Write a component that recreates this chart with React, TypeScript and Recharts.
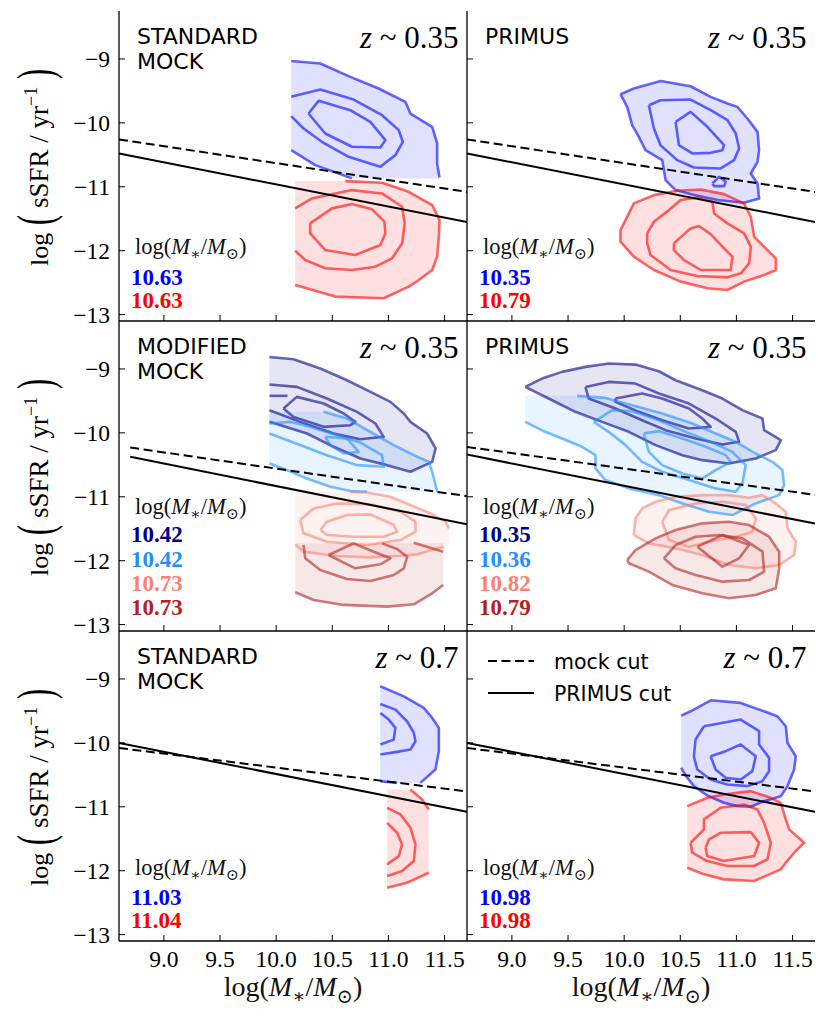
import React from "react";
import { ComposedChart, Scatter, XAxis, YAxis } from "recharts";

const massTicks = [9, 9.5, 10, 10.5, 11, 11.5];
const ssfrTicks = [-13, -12, -11, -10, -9];
const massDomain = [8.6, 11.7];
const ssfrDomain = [-13.1, -8.25];

// quiescent / star-forming cuts: [y at left end, y at right end]
const cutMass = [8.6, 11.7];
const cutMassMod = [8.7, 11.7];
const mockCutZ035 = [-10.26, -11.08];
const primusCutZ035 = [-10.48, -11.55];
const mockCutMod = [-10.23, -10.99];
const primusCutMod = [-10.375, -11.43];
const mockCutModP = [-10.22, -10.97];
const primusCutModP = [-10.34, -11.42];
const mockCutZ07 = [-10.08, -10.76];
const primusCutZ07 = [-10.0, -11.08];

// median masses printed in each panel
const valsStd035 = ["10.63", "10.63"];
const valsPrimus035 = ["10.35", "10.79"];
const valsMod = ["10.42", "10.42", "10.73", "10.73"];
const valsPrimusMod = ["10.35", "10.36", "10.82", "10.79"];
const valsStd07 = ["11.03", "11.04"];
const valsPrimus07 = ["10.98", "10.98"];

// ---- standard mock z~0.35
const smBlueL1 = [[10.134,-9.031],[10.393,-9.072],[10.660,-9.281],[10.913,-9.463],[11.151,-9.671],[11.196,-9.854],[11.390,-10.062],[11.434,-10.322],[11.434,-10.635],[11.455,-10.854]];
const smBlueL1b = [[10.134,-10.427],[10.348,-10.661],[10.675,-10.869]];
const smBlueL2 = [[10.134,-9.593],[10.393,-9.479],[10.690,-9.635],[10.943,-9.880],[11.092,-10.114],[11.128,-10.296],[11.062,-10.505],[10.928,-10.687],[10.645,-10.531],[10.407,-10.296],[10.244,-10.088],[10.134,-9.895]];
const smBlueL3 = [[10.288,-9.854],[10.378,-9.656],[10.660,-9.802],[10.839,-9.984],[10.973,-10.270],[10.928,-10.385],[10.675,-10.374],[10.437,-10.166],[10.288,-9.854]];
const smRedL1 = [[10.616,-10.911],[10.943,-10.937],[11.181,-11.078],[11.390,-11.286],[11.455,-11.520],[11.449,-11.781],[11.434,-12.093],[11.390,-12.302],[11.270,-12.458],[11.181,-12.562],[10.958,-12.744],[10.526,-12.718],[10.169,-12.536]];
const smRedL2 = [[10.169,-11.338],[10.318,-11.182],[10.675,-11.052],[10.943,-11.104],[11.122,-11.312],[11.145,-11.572],[11.122,-11.885],[11.032,-12.119],[10.884,-12.250],[10.675,-12.302],[10.437,-12.275],[10.259,-12.145],[10.169,-12.000]];
const smRedL3 = [[10.303,-11.572],[10.497,-11.338],[10.675,-11.270],[10.854,-11.353],[10.964,-11.546],[10.973,-11.728],[10.928,-11.911],[10.705,-12.067],[10.437,-11.989],[10.303,-11.728],[10.303,-11.572]];

// ---- PRIMUS z~0.35
const prBlueL1 = [[9.967,-9.552],[10.086,-9.463],[10.324,-9.344],[10.592,-9.427],[10.771,-9.594],[10.920,-9.698],[11.009,-9.750],[11.098,-9.932],[11.188,-10.141],[11.202,-10.427],[11.188,-10.609],[11.128,-10.792],[11.188,-10.948],[11.202,-11.182],[11.068,-11.250],[10.830,-11.208],[10.622,-11.130],[10.458,-11.052],[10.369,-10.896],[10.339,-10.583],[10.190,-10.427],[10.131,-10.219],[10.071,-10.036],[10.027,-9.750],[9.967,-9.552]];
const prBlueL2 = [[10.220,-9.724],[10.324,-9.646],[10.592,-9.635],[10.771,-9.802],[10.920,-9.958],[10.994,-10.167],[11.024,-10.401],[10.979,-10.583],[10.860,-10.713],[10.622,-10.698],[10.473,-10.583],[10.324,-10.349],[10.265,-10.089],[10.220,-9.724]];
const prBlueIsle = [[10.786,-10.948],[10.845,-10.844],[10.905,-10.922],[10.890,-10.990],[10.801,-10.990],[10.786,-10.948]];
const prBlueL3 = [[10.458,-9.984],[10.592,-9.828],[10.741,-10.062],[10.890,-10.349],[10.875,-10.427],[10.771,-10.469],[10.607,-10.479],[10.488,-10.349],[10.458,-9.984]];
const prRedL1 = [[9.967,-11.677],[10.012,-11.521],[10.086,-11.260],[10.265,-11.130],[10.473,-11.062],[10.682,-11.042],[10.890,-11.115],[11.068,-11.260],[11.128,-11.469],[11.158,-11.781],[11.277,-11.990],[11.351,-12.120],[11.351,-12.302],[11.247,-12.380],[11.068,-12.484],[10.920,-12.615],[10.741,-12.588],[10.503,-12.484],[10.265,-12.302],[10.086,-12.094],[9.967,-11.859],[9.967,-11.677]];
const prRedL2 = [[10.205,-11.729],[10.265,-11.547],[10.399,-11.365],[10.503,-11.208],[10.652,-11.167],[10.786,-11.234],[10.801,-11.417],[10.920,-11.573],[11.068,-11.729],[11.128,-11.937],[11.113,-12.198],[11.039,-12.354],[10.920,-12.417],[10.652,-12.396],[10.414,-12.302],[10.235,-12.068],[10.205,-11.885],[10.205,-11.729]];
const prRedL3 = [[10.443,-11.885],[10.592,-11.651],[10.667,-11.615],[10.771,-11.740],[10.875,-11.937],[10.964,-12.094],[10.949,-12.302],[10.682,-12.302],[10.533,-12.146],[10.443,-11.990],[10.443,-11.885]];

// ---- modified mock z~0.35
const mmNavyL1 = [[9.940,-8.812],[10.155,-8.849],[10.393,-8.994],[10.631,-9.177],[10.899,-9.411],[11.018,-9.515],[11.137,-9.697],[11.196,-9.828],[11.345,-10.010],[11.420,-10.244],[11.390,-10.453],[11.196,-10.609],[10.988,-10.505],[10.750,-10.401],[10.512,-10.218],[10.274,-10.010],[9.940,-9.828]];
const mmNavyL2 = [[9.940,-9.244],[10.184,-9.281],[10.452,-9.463],[10.720,-9.671],[10.884,-9.854],[10.958,-10.062],[10.750,-10.099],[10.512,-10.010],[10.214,-9.828],[9.940,-9.645]];
const mmNavyL3 = [[10.065,-9.619],[10.184,-9.437],[10.423,-9.541],[10.601,-9.697],[10.705,-9.828],[10.661,-9.880],[10.423,-9.906],[10.155,-9.750],[10.065,-9.619]];
const mmNavyStub = [[9.940,-9.421],[10.101,-9.421]];
const mmSkyL1 = [[10.423,-9.671],[10.631,-9.776],[10.839,-9.984],[11.048,-10.192],[11.226,-10.349],[11.360,-10.453],[11.390,-10.609],[11.435,-10.921]];
const mmSkyL1b = [[9.940,-10.479],[10.095,-10.583],[10.274,-10.713],[10.482,-10.843],[10.661,-10.911],[10.810,-10.921]];
const mmSkyL2 = [[9.940,-10.010],[10.155,-10.151],[10.452,-10.349],[10.720,-10.505],[10.958,-10.531],[10.943,-10.349],[10.750,-10.151],[10.542,-10.036],[10.304,-9.906],[10.125,-9.828],[9.940,-9.854]];
const mmSkyL3 = [[10.437,-10.062],[10.631,-10.088],[10.735,-10.297],[10.601,-10.323],[10.482,-10.192],[10.437,-10.062]];
const mmSalmonL1 = [[10.661,-10.921],[10.810,-10.932],[11.018,-11.000],[11.196,-11.130],[11.375,-11.260],[11.509,-11.390],[11.539,-11.494]];
const mmSalmonL1b = [[10.170,-11.745],[10.244,-11.859],[10.542,-11.927],[10.839,-11.948],[11.107,-11.922],[11.256,-11.901],[11.494,-11.781]];
const mmSalmonL2 = [[10.214,-11.364],[10.333,-11.182],[10.542,-11.104],[10.839,-11.119],[11.107,-11.234],[11.241,-11.390],[11.241,-11.546],[11.107,-11.677],[10.810,-11.755],[10.452,-11.703],[10.244,-11.572],[10.214,-11.364]];
const mmSalmonL3 = [[10.393,-11.520],[10.452,-11.390],[10.631,-11.286],[10.839,-11.276],[11.048,-11.442],[11.077,-11.546],[10.958,-11.625],[10.690,-11.625],[10.452,-11.599],[10.393,-11.520]];
const mmBrickL1 = [[10.170,-12.494],[10.333,-12.614],[10.601,-12.692],[10.988,-12.718],[11.226,-12.682],[11.390,-12.510],[11.488,-12.380]];
const mmBrickL2 = [[10.244,-11.755],[10.259,-11.963],[10.393,-12.145],[10.631,-12.286],[10.839,-12.317],[11.048,-12.224],[11.137,-12.119],[11.167,-11.937],[11.077,-11.817],[10.943,-11.729]];
const mmBrickStub = [[11.226,-11.718],[11.488,-11.859]];
const mmBrickL3 = [[10.467,-11.911],[10.690,-11.729],[10.869,-11.859],[11.018,-11.963],[10.928,-12.057],[10.705,-12.119],[10.467,-11.911]];

// ---- PRIMUS z~0.35, split like the modified mock
const pmNavyL1 = [[9.119,-9.281],[9.268,-9.151],[9.446,-9.046],[9.655,-8.968],[9.863,-8.916],[10.101,-8.932],[10.309,-9.036],[10.458,-9.177],[10.696,-9.333],[10.875,-9.463],[11.053,-9.645],[11.232,-9.776],[11.247,-9.958],[11.396,-10.114],[11.351,-10.270],[11.172,-10.401],[10.934,-10.479],[10.696,-10.427],[10.518,-10.349],[10.280,-10.192],[10.041,-9.984],[9.803,-9.828],[9.565,-9.671],[9.327,-9.463],[9.119,-9.281]];
const pmNavyL2 = [[9.655,-9.281],[9.863,-9.203],[10.101,-9.229],[10.309,-9.385],[10.577,-9.541],[10.815,-9.776],[10.994,-9.984],[11.024,-10.140],[10.875,-10.182],[10.637,-10.088],[10.369,-9.958],[10.160,-9.802],[9.922,-9.619],[9.684,-9.463],[9.655,-9.281]];
const pmNavyL3 = [[9.922,-9.463],[10.160,-9.385],[10.339,-9.463],[10.577,-9.619],[10.696,-9.776],[10.771,-9.906],[10.577,-9.932],[10.339,-9.802],[10.131,-9.671],[9.922,-9.515],[9.922,-9.463]];
const pmSkyL1 = [[9.580,-9.421],[9.833,-9.453],[10.071,-9.567],[10.339,-9.697],[10.607,-9.854],[10.815,-10.010],[10.994,-10.140],[11.172,-10.323],[11.321,-10.453],[11.410,-10.583],[11.425,-10.817],[11.381,-10.974],[11.172,-11.104],[10.964,-11.286],[10.756,-11.234],[10.518,-11.104],[10.309,-10.974],[10.041,-10.869],[9.833,-10.739],[9.744,-10.557],[9.744,-10.349],[9.625,-10.218],[9.446,-10.088],[9.297,-9.984],[9.119,-9.828]];
const pmSkyL2 = [[9.729,-9.828],[9.893,-9.645],[10.071,-9.661],[10.309,-9.802],[10.547,-9.984],[10.785,-10.151],[10.964,-10.297],[11.083,-10.505],[11.053,-10.791],[10.994,-10.921],[10.815,-10.869],[10.577,-10.739],[10.339,-10.609],[10.160,-10.453],[10.012,-10.192],[9.863,-9.984],[9.729,-9.828]];
const pmSkyL3 = [[10.175,-10.010],[10.309,-9.973],[10.518,-10.088],[10.726,-10.218],[10.905,-10.349],[10.949,-10.453],[10.815,-10.583],[10.696,-10.713],[10.518,-10.635],[10.339,-10.505],[10.220,-10.297],[10.175,-10.010]];
const pmSalmonL1 = [[10.086,-11.599],[10.101,-11.338],[10.160,-11.182],[10.280,-11.078],[10.458,-11.000],[10.696,-10.974],[10.934,-10.974],[11.113,-11.015],[11.232,-10.974],[11.351,-11.104],[11.440,-11.234],[11.455,-11.494],[11.530,-11.703],[11.515,-11.911],[11.381,-12.067],[11.172,-12.119],[10.934,-12.067],[10.696,-11.911],[10.458,-11.807],[10.220,-11.729],[10.086,-11.599]];
const pmSalmonL2 = [[10.339,-11.390],[10.399,-11.208],[10.637,-11.104],[10.875,-11.078],[11.083,-11.130],[11.172,-11.338],[11.143,-11.546],[10.994,-11.625],[10.756,-11.703],[10.577,-11.781],[10.399,-11.677],[10.339,-11.390]];
const pmBrickL1 = [[10.027,-11.989],[10.101,-11.833],[10.280,-11.651],[10.458,-11.520],[10.696,-11.416],[10.934,-11.390],[11.113,-11.442],[11.291,-11.625],[11.381,-11.859],[11.381,-12.119],[11.351,-12.432],[11.172,-12.536],[10.934,-12.588],[10.696,-12.510],[10.428,-12.380],[10.220,-12.171],[10.041,-12.041],[10.027,-11.989]];
const pmBrickL2 = [[10.354,-11.963],[10.458,-11.755],[10.637,-11.625],[10.845,-11.599],[11.053,-11.651],[11.232,-11.859],[11.247,-12.171],[11.113,-12.302],[10.875,-12.328],[10.637,-12.224],[10.458,-12.119],[10.354,-11.963]];
const pmBrickL3 = [[10.652,-11.781],[10.875,-11.599],[11.113,-11.755],[11.024,-11.963],[10.875,-12.093],[10.652,-11.781]];

// ---- standard mock z~0.7
const s7BlueL1 = [[10.928,-9.115],[11.137,-9.272],[11.315,-9.454],[11.390,-9.610],[11.449,-9.766],[11.449,-10.131],[11.419,-10.417],[11.285,-10.626]];
const s7BlueStub = [[10.928,-10.600],[11.077,-10.626]];
const s7BlueL2 = [[10.928,-9.391],[11.062,-9.480],[11.166,-9.662],[11.226,-9.844],[11.241,-9.975],[11.196,-10.105],[11.077,-10.141],[10.928,-10.183]];
const s7BlueL3 = [[10.928,-9.532],[11.003,-9.636],[11.062,-9.766],[11.047,-9.949],[10.928,-10.027]];
const s7RedL1a = [[11.196,-10.730],[11.300,-10.886],[11.360,-11.042]];
const s7RedL1b = [[10.988,-12.266],[11.166,-12.188],[11.360,-12.032]];
const s7RedL2 = [[10.988,-11.016],[11.107,-11.120],[11.196,-11.329],[11.241,-11.589],[11.226,-11.850],[11.122,-12.006],[10.988,-12.084]];
const s7RedL3 = [[10.988,-11.251],[11.077,-11.407],[11.122,-11.589],[11.092,-11.772],[10.988,-11.902]];

// ---- PRIMUS z~0.7
const p7BlueL1 = [[10.508,-9.573],[10.592,-9.506],[10.770,-9.334],[11.038,-9.375],[11.246,-9.506],[11.365,-9.584],[11.440,-9.740],[11.455,-10.000],[11.529,-10.209],[11.514,-10.417],[11.455,-10.677],[11.395,-10.834],[11.246,-10.912],[11.127,-11.000],[11.008,-10.990],[10.889,-10.938],[10.740,-10.823],[10.621,-10.677],[10.547,-10.511],[10.508,-10.391]];
const p7BlueL2 = [[10.711,-9.740],[11.038,-9.636],[11.202,-9.818],[11.202,-10.026],[11.291,-10.235],[11.291,-10.443],[11.231,-10.599],[11.098,-10.677],[10.919,-10.651],[10.770,-10.573],[10.651,-10.417],[10.621,-10.209],[10.636,-9.948],[10.711,-9.740]];
const p7BlueL3 = [[10.770,-10.209],[10.904,-10.130],[11.038,-10.026],[11.172,-10.209],[11.142,-10.443],[11.038,-10.573],[10.904,-10.547],[10.815,-10.417],[10.770,-10.209]];
const p7RedL1 = [[10.562,-10.990],[10.740,-10.860],[10.889,-10.808],[11.127,-10.755],[11.306,-10.860],[11.395,-10.938],[11.440,-11.198],[11.470,-11.354],[11.603,-11.563],[11.514,-11.719],[11.440,-11.875],[11.395,-11.979],[11.157,-12.162],[10.889,-12.136],[10.711,-12.057],[10.562,-11.953]];
const p7RedL2 = [[10.592,-11.563],[10.711,-11.354],[10.711,-11.198],[10.859,-11.016],[11.068,-10.964],[11.187,-11.042],[11.246,-11.250],[11.306,-11.563],[11.276,-11.823],[11.157,-11.927],[10.919,-11.927],[10.740,-11.849],[10.606,-11.719],[10.592,-11.563]];
const p7RedL3 = [[10.725,-11.641],[10.755,-11.511],[10.859,-11.407],[11.127,-11.396],[11.202,-11.563],[11.157,-11.771],[10.889,-11.849],[10.740,-11.771],[10.725,-11.641]];

const BLUE = "#0000ff";
const RED = "#ff0000";
const NAVY = "#00008b";
const SKY = "#1e90ff";
const SALMON = "#fa8072";
const BRICK = "#b22222";

const SERIF = "'Liberation Serif', 'DejaVu Serif', serif";
const SANS = "'DejaVu Sans', 'Liberation Sans', sans-serif";
const W = 348;
const H = 310;
const YW = 70;
const XH = 60;
const PAD = 5;
const tickText: React.CSSProperties = { fontFamily: SERIF, fontSize: "23.5px", fill: "#000" };

type Layer = { pts: number[][]; color: string; fill?: boolean; op?: number; dash?: string; width?: number };

const rev = (a: number[][]) => [...a].reverse();
const cutPts = (xs: number[], ys: number[]) => xs.map((x, i) => [x, ys[i]]);
const toPts = (a: number[][]) => a.map(([x, y]) => ({ x, y }));
const noDot = () => <g />;

const fillL = (pts: number[][], color: string, op = 0.12): Layer => ({ pts, color, fill: true, op });
const lineL = (pts: number[][], color: string): Layer => ({ pts, color });
const cuts = (xs: number[], mock: number[], primus: number[]): Layer[] => [
  { pts: cutPts(xs, mock), color: "#000", op: 1, dash: "9 4.5", width: 2 },
  { pts: cutPts(xs, primus), color: "#000", op: 1, width: 2 },
];

type Panel = {
  x: number;
  y: number;
  yLab: boolean;
  xLab: boolean;
  title: string[];
  z: string;
  labelY: number;
  valueY: number[];
  values: string[];
  colors: string[];
  layers: Layer[];
};

const panels: Panel[] = [
  {
    x: 119, y: 11, yLab: true, xLab: false, title: ["STANDARD", "MOCK"], z: "0.35",
    labelY: 243, valueY: [274, 297], values: valsStd035, colors: [BLUE, RED],
    layers: [
      fillL([...smBlueL1, [11.455, -10.869], ...rev(smBlueL1b)], BLUE),
      fillL([[10.169, -10.911], ...smRedL1], RED),
      lineL(smBlueL1, BLUE), lineL(smBlueL1b, BLUE), lineL(smBlueL2, BLUE), lineL(smBlueL3, BLUE),
      lineL(smRedL1, RED), lineL(smRedL2, RED), lineL(smRedL3, RED),
      ...cuts(cutMass, mockCutZ035, primusCutZ035),
    ],
  },
  {
    x: 467, y: 11, yLab: false, xLab: false, title: ["PRIMUS"], z: "0.35",
    labelY: 243, valueY: [274, 297], values: valsPrimus035, colors: [BLUE, RED],
    layers: [
      fillL(prBlueL1, BLUE),
      fillL(prRedL1, RED),
      lineL(prBlueL1, BLUE), lineL(prBlueL2, BLUE), lineL(prBlueIsle, BLUE), lineL(prBlueL3, BLUE),
      lineL(prRedL1, RED), lineL(prRedL2, RED), lineL(prRedL3, RED),
      ...cuts(cutMass, mockCutZ035, primusCutZ035),
    ],
  },
  {
    x: 119, y: 321, yLab: true, xLab: false, title: ["MODIFIED", "MOCK"], z: "0.35",
    labelY: 193, valueY: [221, 246, 270, 294], values: valsMod, colors: [NAVY, SKY, SALMON, BRICK],
    layers: [
      fillL(mmNavyL1, NAVY, 0.1),
      fillL([[9.940, -9.671], ...mmSkyL1, ...rev(mmSkyL1b)], SKY, 0.1),
      fillL([[10.170, -10.921], ...mmSalmonL1, [11.539, -11.76], ...rev(mmSalmonL1b)], SALMON, 0.1),
      fillL([[10.170, -11.729], [11.488, -11.729], ...rev(mmBrickL1)], BRICK, 0.1),
      lineL(mmNavyL1, NAVY), lineL(mmNavyL2, NAVY), lineL(mmNavyL3, NAVY), lineL(mmNavyStub, NAVY),
      lineL(mmSkyL1, SKY), lineL(mmSkyL1b, SKY), lineL(mmSkyL2, SKY), lineL(mmSkyL3, SKY),
      lineL(mmSalmonL1, SALMON), lineL(mmSalmonL1b, SALMON), lineL(mmSalmonL2, SALMON), lineL(mmSalmonL3, SALMON),
      lineL(mmBrickL1, BRICK), lineL(mmBrickL2, BRICK), lineL(mmBrickStub, BRICK), lineL(mmBrickL3, BRICK),
      ...cuts(cutMassMod, mockCutMod, primusCutMod),
    ],
  },
  {
    x: 467, y: 321, yLab: false, xLab: false, title: ["PRIMUS"], z: "0.35",
    labelY: 193, valueY: [221, 246, 270, 294], values: valsPrimusMod, colors: [NAVY, SKY, SALMON, BRICK],
    layers: [
      fillL(pmNavyL1, NAVY, 0.1),
      fillL([[9.119, -9.421], ...pmSkyL1], SKY, 0.1),
      fillL(pmSalmonL1, SALMON, 0.1),
      fillL(pmBrickL1, BRICK, 0.1),
      lineL(pmNavyL1, NAVY), lineL(pmNavyL2, NAVY), lineL(pmNavyL3, NAVY),
      lineL(pmSkyL1, SKY), lineL(pmSkyL2, SKY), lineL(pmSkyL3, SKY),
      lineL(pmSalmonL1, SALMON), lineL(pmSalmonL2, SALMON),
      lineL(pmBrickL1, BRICK), lineL(pmBrickL2, BRICK), lineL(pmBrickL3, BRICK),
      ...cuts(cutMass, mockCutModP, primusCutModP),
    ],
  },
  {
    x: 119, y: 631, yLab: true, xLab: true, title: ["STANDARD", "MOCK"], z: "0.7",
    labelY: 244, valueY: [274, 297], values: valsStd07, colors: [BLUE, RED],
    layers: [
      fillL([...s7BlueL1, [10.928, -10.626]], BLUE),
      fillL([[10.988, -10.730], ...s7RedL1a, ...rev(s7RedL1b)], RED),
      lineL(s7BlueL1, BLUE), lineL(s7BlueStub, BLUE), lineL(s7BlueL2, BLUE), lineL(s7BlueL3, BLUE),
      lineL(s7RedL1a, RED), lineL(s7RedL1b, RED), lineL(s7RedL2, RED), lineL(s7RedL3, RED),
      ...cuts(cutMass, mockCutZ07, primusCutZ07),
    ],
  },
  {
    x: 467, y: 631, yLab: false, xLab: true, title: [], z: "0.7",
    labelY: 244, valueY: [274, 297], values: valsPrimus07, colors: [BLUE, RED],
    layers: [
      fillL(p7BlueL1, BLUE),
      fillL(p7RedL1, RED),
      lineL(p7BlueL1, BLUE), lineL(p7BlueL2, BLUE), lineL(p7BlueL3, BLUE),
      lineL(p7RedL1, RED), lineL(p7RedL2, RED), lineL(p7RedL3, RED),
      ...cuts(cutMass, mockCutZ07, primusCutZ07),
    ],
  },
];

function series(l: Layer, i: number) {
  const line = l.fill
    ? { fill: l.color, fillOpacity: l.op, stroke: "none" }
    : {
        fill: "none",
        stroke: l.color,
        strokeOpacity: l.op ?? 0.6,
        strokeWidth: l.width ?? 2.6,
        strokeDasharray: l.dash,
        strokeLinejoin: "round",
      };
  return (
    <Scatter
      key={i}
      xAxisId="b"
      yAxisId="l"
      data={toPts(l.pts)}
      shape={noDot}
      line={line as any}
      lineType="joint"
      legendType="none"
      isAnimationActive={false}
    />
  );
}

function XTickLabel(props: any) {
  const { x, y, payload, show } = props;
  if (!show) return <g />;
  return (
    <text x={x} y={y} dy="0.71em" textAnchor="middle" style={tickText}>
      {Number(payload.value).toFixed(1)}
    </text>
  );
}

function YTickLabel(props: any) {
  const { x, y, payload, show } = props;
  if (!show) return <g />;
  return (
    <text x={x} y={y} dy="0.36em" textAnchor="end" style={tickText}>
      {`\u2212${Math.abs(Number(payload.value))}`}
    </text>
  );
}

function PanelChart({ p }: { p: Panel }) {
  const common = {
    type: "number" as const,
    allowDataOverflow: true,
    interval: 0 as const,
    tickSize: -6,
    axisLine: { stroke: "#000", strokeWidth: 1.3 },
    tickLine: { stroke: "#000", strokeWidth: 1 },
  };
  return (
    <div style={{ position: "absolute", left: p.x - YW, top: p.y - PAD }}>
      <ComposedChart width={W + YW + PAD} height={H + XH + PAD} margin={{ top: PAD, right: PAD, bottom: 0, left: 0 }}>
        <XAxis {...common} xAxisId="b" dataKey="x" orientation="bottom" domain={massDomain} ticks={massTicks}
          height={XH} tickMargin={15} tick={<XTickLabel show={p.xLab} />} />
        <XAxis {...common} xAxisId="t" dataKey="x" orientation="top" domain={massDomain} ticks={massTicks}
          height={0} tickMargin={0} tick={<XTickLabel show={false} />} />
        <YAxis {...common} yAxisId="l" dataKey="y" orientation="left" domain={ssfrDomain} ticks={ssfrTicks}
          width={YW} tickMargin={15} tick={<YTickLabel show={p.yLab} />} />
        <YAxis {...common} yAxisId="r" dataKey="y" orientation="right" domain={ssfrDomain} ticks={ssfrTicks}
          width={0} tickMargin={0} tick={<YTickLabel show={false} />} />
        {p.layers.map(series)}
      </ComposedChart>
    </div>
  );
}

function MassText({ x, y, size, anchor }: { x: number; y: number; size: number; anchor?: string }) {
  const d = size * 0.24;
  return (
    <text x={x} y={y} fontFamily={SERIF} fontSize={size} fill="#111" textAnchor={anchor as any}>
      log(<tspan fontStyle="italic">M</tspan>
      <tspan fontSize={size * 0.7} dy={d}>∗</tspan>
      <tspan dy={-d}>/</tspan>
      <tspan fontStyle="italic">M</tspan>
      <tspan fontSize={size * 0.7} dy={d}>⊙</tspan>
      <tspan dy={-d}>)</tspan>
    </text>
  );
}

function YTitle({ cy }: { cy: number }) {
  return (
    <g transform={`translate(48 ${cy}) rotate(-90)`} fontFamily={SERIF} fill="#000">
      <text x={-99} y={0} fontSize={26}>log</text>
      <text transform="translate(-58 4) scale(1 1.7)" fontSize={30}>(</text>
      <text x={-41} y={0} fontSize={27}>
        sSFR / yr<tspan dy={-11} fontSize={18}>−1</tspan>
      </text>
      <text transform="translate(88 4) scale(1 1.7)" fontSize={30}>)</text>
    </g>
  );
}

function Overlay() {
  return (
    <svg width={830} height={1017} style={{ position: "absolute", left: 0, top: 0, pointerEvents: "none" }}>
      {panels.map((p, i) => (
        <g key={i}>
          {p.title.map((t, k) => (
            <text key={k} x={p.x + 18} y={p.y + 33 + k * 25} fontFamily={SANS} fontSize={22} fill="#000">{t}</text>
          ))}
          <text x={p.x + W - 8.5} y={p.y + 37} textAnchor="end" fontFamily={SERIF} fontSize={31} fill="#000">
            <tspan fontStyle="italic">z</tspan> ~ {p.z}
          </text>
          <MassText x={p.x + 16} y={p.y + p.labelY} size={22.5} />
          {p.values.map((v, k) => (
            <text key={k} x={p.x + 12} y={p.y + p.valueY[k]} fontFamily={SERIF} fontWeight="bold" fontSize={23} fill={p.colors[k]}>{v}</text>
          ))}
        </g>
      ))}
      {[11, 321, 631].map((y0) => (
        <YTitle key={y0} cy={y0 + H / 2 + 1} />
      ))}
      {[119, 467].map((x0) => (
        <MassText key={x0} x={x0 + W / 2} y={996} size={28} anchor="middle" />
      ))}
      <g>
        <line x1={488} x2={534} y1={661} y2={661} stroke="#000" strokeWidth={2} strokeDasharray="9 4.5" />
        <text x={554} y={669} fontFamily={SANS} fontSize={20.5} fill="#000">mock cut</text>
        <line x1={488} x2={534} y1={693} y2={693} stroke="#000" strokeWidth={2} />
        <text x={554} y={701} fontFamily={SANS} fontSize={20.5} fill="#000">PRIMUS cut</text>
      </g>
    </svg>
  );
}

export default function App() {
  return (
    <div style={{ position: "absolute", left: 0, top: 0, width: 830, height: 1017, background: "#fff" }}>
      {panels.map((p, i) => (
        <PanelChart key={i} p={p} />
      ))}
      <Overlay />
    </div>
  );
}
